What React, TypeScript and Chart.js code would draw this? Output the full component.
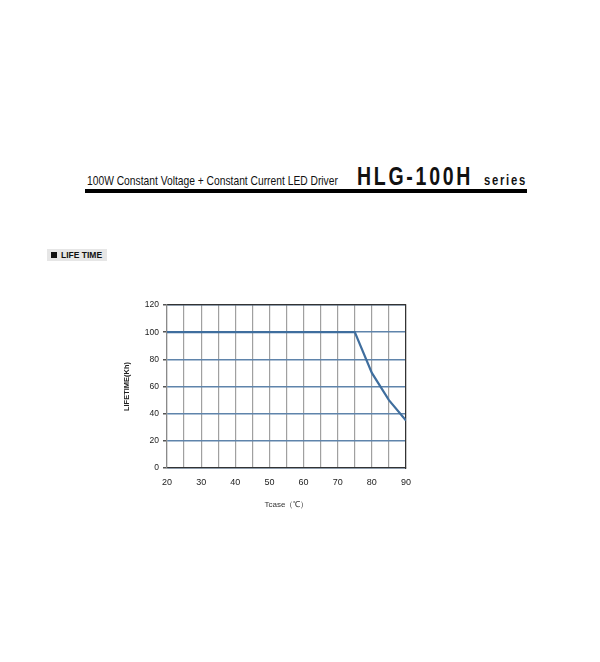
import React, { useEffect, useRef } from "react";
import { Chart, registerables } from "chart.js";

Chart.register(...registerables);

const tcase = [20, 75, 80, 85, 90];
const lifetimeKh = [100, 100, 70, 50, 35];
const xMin = 20;
const xMax = 90;
const yMin = 0;
const yMax = 120;

const titleText = "100W Constant Voltage + Constant Current LED Driver";
const modelText = "HLG-100H";
const seriesText = "series";
const sectionText = "LIFE TIME";
const xTitle = "Tcase（℃）";
const yTitle = "LIFETIME(Kh)";

export default function App() {
  const ref = useRef<HTMLCanvasElement | null>(null);

  useEffect(() => {
    if (!ref.current) return;
    const chart = new Chart(ref.current, {
      type: "line",
      data: {
        datasets: [
          {
            data: tcase.map((x, i) => ({ x, y: lifetimeKh[i] })),
            borderColor: "#3f6e9e",
            borderWidth: 2.2,
            pointRadius: 0,
            tension: 0,
            fill: false,
          },
        ],
      },
      options: {
        animation: false,
        responsive: false,
        maintainAspectRatio: false,
        layout: { padding: { top: 15, right: 14, left: 0, bottom: 0 } },
        plugins: { legend: { display: false }, tooltip: { enabled: false } },
        scales: {
          x: {
            type: "linear",
            min: xMin,
            max: xMax,
            afterFit: (s: any) => {
              s.height = 52;
            },
            ticks: {
              stepSize: 5,
              padding: 9,
              color: "#222",
              font: { family: "Liberation Sans", size: 9 },
              callback: (v: any) => (Number(v) % 10 === 0 ? String(v) : ""),
              maxRotation: 0,
              autoSkip: false,
            },
            grid: { color: "#a0a0a0", lineWidth: 1.2, drawTicks: false },
            border: { color: "#333", width: 1.2 },
            title: {
              display: true,
              text: xTitle,
              color: "#333",
              font: { family: "Liberation Sans", size: 8 },
              padding: { top: 0, bottom: 10 },
            },
          },
          x2: {
            type: "linear",
            position: "top",
            min: xMin,
            max: xMax,
            ticks: { display: false },
            grid: { display: false },
            border: { color: "#333", width: 1.2 },
            afterFit: (s: any) => {
              s.height = 0;
            },
          },
          y: {
            min: yMin,
            max: yMax,
            afterFit: (s: any) => {
              s.width = 57;
            },
            ticks: {
              stepSize: 20,
              padding: 4,
              color: "#222",
              font: { family: "Liberation Sans", size: 8.5 },
            },
            grid: {
              color: "#5f84ab",
              lineWidth: 1.5,
              drawTicks: true,
              tickLength: 4,
              tickColor: "#555",
            },
            border: { color: "#8a8a8a", width: 1.2 },
            title: {
              display: true,
              text: yTitle,
              color: "#222",
              font: { family: "Liberation Sans", size: 7.5, weight: "bold" },
              padding: { top: 12, bottom: 0 },
            },
          },
          y2: {
            position: "right",
            min: yMin,
            max: yMax,
            ticks: { display: false },
            grid: { display: false },
            border: { color: "#333", width: 1.2 },
            afterFit: (s: any) => {
              s.width = 0;
            },
          },
        },
      },
    } as any);
    return () => chart.destroy();
  }, []);

  const abs = (o: React.CSSProperties): React.CSSProperties => ({
    position: "absolute",
    whiteSpace: "nowrap",
    lineHeight: 1,
    ...o,
  });

  return (
    <div
      style={{
        position: "absolute",
        left: 0,
        top: 0,
        width: 600,
        height: 662,
        background: "#fff",
        fontFamily: "Liberation Sans, Arial, sans-serif",
        color: "#111",
        overflow: "hidden",
      }}
    >
      <span
        style={abs({
          left: 87,
          top: 174,
          fontSize: 13,
          transform: "scaleX(0.79)",
          transformOrigin: "left top",
        })}
      >
        {titleText}
      </span>
      <span
        style={abs({
          left: 357,
          top: 164,
          fontSize: 25,
          fontWeight: "bold",
          letterSpacing: 3.5,
          transform: "scaleX(0.78)",
          transformOrigin: "left top",
        })}
      >
        {modelText}
      </span>
      <span
        style={abs({
          left: 484,
          top: 172,
          fontSize: 15,
          fontWeight: "bold",
          letterSpacing: 2.3,
          transform: "scaleX(0.75)",
          transformOrigin: "left top",
        })}
      >
        {seriesText}
      </span>
      <div style={abs({ left: 85, top: 189, width: 442, height: 4, background: "#000" })} />
      <div
        style={abs({
          left: 47,
          top: 249,
          width: 60,
          height: 12,
          background: "#e6e6e6",
        })}
      />
      <div style={abs({ left: 51, top: 252, width: 6, height: 6, background: "#111" })} />
      <span
        style={abs({
          left: 61,
          top: 251,
          fontSize: 8.5,
          fontWeight: "bold",
        })}
      >
        {sectionText}
      </span>
      <div style={abs({ left: 110, top: 290, width: 310, height: 230 })}>
        <canvas ref={ref} width={310} height={230} style={{ width: 310, height: 230 }} />
      </div>
    </div>
  );
}
